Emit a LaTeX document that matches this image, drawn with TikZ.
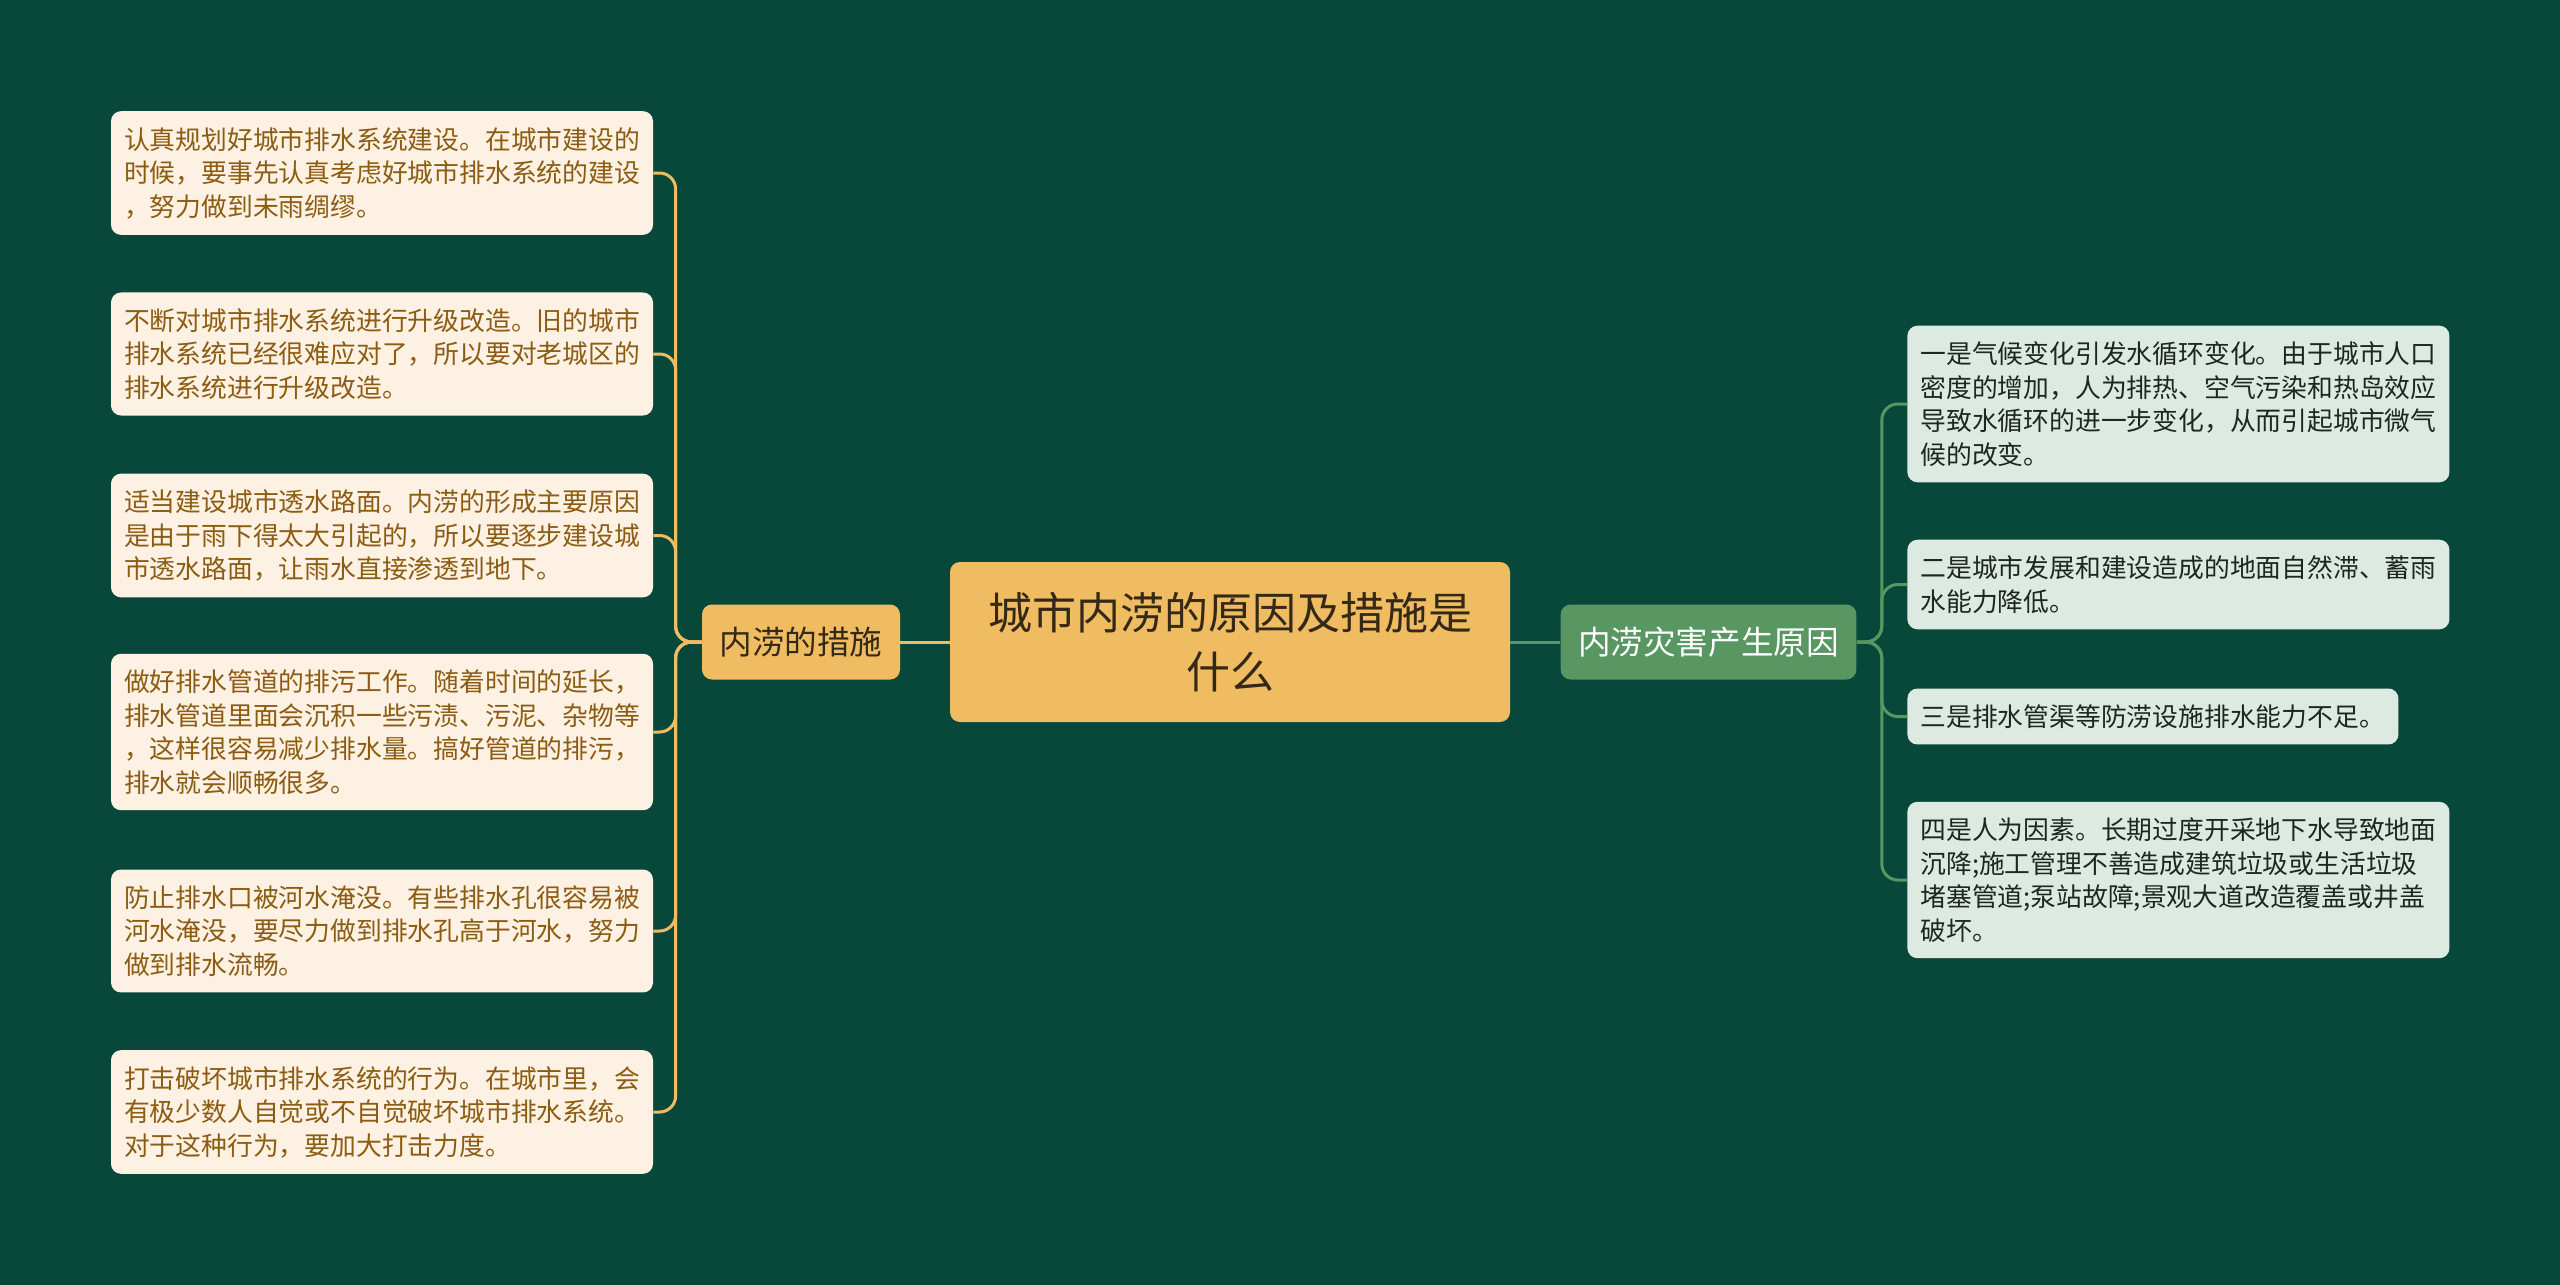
\documentclass[tikz,border=0pt]{standalone}
\usepackage{fontspec}
\newfontfamily\cjk{Noto Sans CJK SC}
\definecolor{fond}{RGB}{8,72,58}
\definecolor{or}{RGB}{240,188,98}
\definecolor{creme}{RGB}{252,241,226}
\definecolor{brun}{RGB}{140,92,18}
\definecolor{sombre}{RGB}{52,40,22}
\definecolor{vert}{RGB}{88,150,98}
\definecolor{vertpale}{RGB}{221,234,225}
\definecolor{encre}{RGB}{30,38,32}
\usetikzlibrary{positioning}

\tikzset{
  racine/.style={fill=or,rounded corners=5pt,minimum width=280pt,minimum height=80pt,
    align=center,text=sombre,font=\cjk\fontsize{22pt}{29.5pt}\selectfont},
  brancheg/.style={fill=or,rounded corners=5pt,minimum height=37.5pt,inner xsep=8.75pt,
    text=sombre,font=\cjk\fontsize{16.3pt}{20pt}\selectfont},
  branched/.style={fill=vert,rounded corners=5pt,minimum height=37.5pt,inner xsep=8.75pt,
    text=white,font=\cjk\fontsize{16.3pt}{20pt}\selectfont},
  feuilleg/.style={fill=creme,rounded corners=5pt,text width=258pt,align=left,
    inner xsep=6.5pt,inner ysep=8pt,text=brun,font=\cjk\fontsize{12.9pt}{16.75pt}\selectfont},
  feuilled/.style={fill=vertpale,rounded corners=5pt,text width=258pt,align=left,anchor=west,
    inner xsep=6.5pt,inner ysep=8pt,text=encre,font=\cjk\fontsize{12.9pt}{16.75pt}\selectfont},
  lienor/.style={or,line width=1.5pt,rounded corners=8pt},
  lienvert/.style={vert,line width=1.5pt,rounded corners=8pt}
}

\begin{document}
\begin{tikzpicture}[x=0.5pt,y=-0.5pt]
  \fill[fond] (0,0) rectangle (2560,1285);

  %% centre et branches
  \node[racine] (centre) at (1230,642) {城市内涝的原因及措施是\\什么};
  \node[brancheg] (mesures) at (801,642) {内涝的措施};
  \node[branched] (causes) at (1708.5,642) {内涝灾害产生原因};

  %%措施 (gauche)
  \node[feuilleg] (g1) at (382,173) {认真规划好城市排水系统建设。在城市建设的\\时候，要事先认真考虑好城市排水系统的建设\\，努力做到未雨绸缪。};
  \node[feuilleg] (g2) at (382,354) {不断对城市排水系统进行升级改造。旧的城市\\排水系统已经很难应对了，所以要对老城区的\\排水系统进行升级改造。};
  \node[feuilleg] (g3) at (382,535.5) {适当建设城市透水路面。内涝的形成主要原因\\是由于雨下得太大引起的，所以要逐步建设城\\市透水路面，让雨水直接渗透到地下。};
  \node[feuilleg] (g4) at (382,732) {做好排水管道的排污工作。随着时间的延长，\\排水管道里面会沉积一些污渍、污泥、杂物等\\，这样很容易减少排水量。搞好管道的排污，\\排水就会顺畅很多。};
  \node[feuilleg] (g5) at (382,931) {防止排水口被河水淹没。有些排水孔很容易被\\河水淹没，要尽力做到排水孔高于河水，努力\\做到排水流畅。};
  \node[feuilleg] (g6) at (382,1112) {打击破坏城市排水系统的行为。在城市里，会\\有极少数人自觉或不自觉破坏城市排水系统。\\对于这种行为，要加大打击力度。};

  %% 原因 (droite)
  \node[feuilled] (d1) at (1907,404) {一是气候变化引发水循环变化。由于城市人口\\密度的增加，人为排热、空气污染和热岛效应\\导致水循环的进一步变化，从而引起城市微气\\候的改变。};
  \node[feuilled] (d2) at (1907,584.5) {二是城市发展和建设造成的地面自然滞、蓄雨\\水能力降低。};
  \node[feuilled,text width=232.5pt] (d3) at (1907,716.5) {三是排水管渠等防涝设施排水能力不足。};
  \node[feuilled] (d4) at (1907,880) {四是人为因素。长期过度开采地下水导致地面\\沉降;施工管理不善造成建筑垃圾或生活垃圾\\堵塞管道;泵站故障;景观大道改造覆盖或井盖\\破坏。};

  %% liens
  \draw[lienor] (centre.west) -- (mesures.east);
  \draw[lienvert] (centre.east) -- (causes.west);
  \foreach \n in {1,...,6}
    \draw[lienor] (mesures.west) -- ++(-13pt,0) |- (g\n.east);
  \foreach \n in {1,...,4}
    \draw[lienvert] (causes.east) -- ++(12.5pt,0) |- (d\n.west);
\end{tikzpicture}
\end{document}
